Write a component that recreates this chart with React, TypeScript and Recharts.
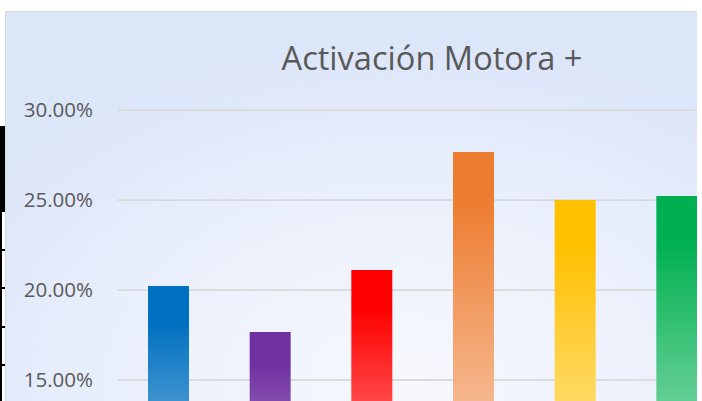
import React from 'react';
import { BarChart, Bar, XAxis, YAxis, CartesianGrid, Cell } from 'recharts';

const categories = ['A', 'B', 'C', 'D', 'E', 'F'];
const values = [0.2022, 0.1767, 0.2111, 0.2767, 0.25, 0.2522];
const colors = ['#0070C0', '#7030A0', '#FF0000', '#ED7D31', '#FFC000', '#00B050'];
const yTicks = [0.15, 0.2, 0.25, 0.3];
const title = 'Activación Motora +';

const data = categories.map((c, i) => ({ name: c, value: values[i] }));

const fmt = (v: number) => (v * 100).toFixed(2) + '%';

export default function App() {
  return (
    <div style={{ position: 'fixed', left: 0, top: 0, width: 702, height: 401, overflow: 'hidden', background: '#ffffff' }}>
      {/* spreadsheet cell marks on the left */}
      <div style={{ position: 'absolute', left: 0, top: 126, width: 5, height: 86, background: '#000' }} />
      <div style={{ position: 'absolute', left: 0, top: 212, width: 2, height: 189, background: '#000' }} />
      {[249, 287, 326, 364].map((y) => (
        <div key={y} style={{ position: 'absolute', left: 0, top: y, width: 5, height: 2, background: '#000' }} />
      ))}
      <div
        style={{
          position: 'absolute',
          left: 5,
          top: 11,
          width: 691,
          height: 400,
          borderTop: '1px solid #d9d9d9',
          borderLeft: '1px solid #d9d9d9',
          overflow: 'hidden',
          background: 'radial-gradient(ellipse 75% 85% at 58% 92%, #f6f8fd 0%, #eef2fc 40%, #dce6f9 100%)',
        }}
      >
        <div
          style={{
            position: 'absolute',
            left: 0,
            width: 852,
            top: 26,
            textAlign: 'center',
            fontFamily: '"Open Sans", sans-serif',
            fontSize: 32.6,
            color: '#595959',
            lineHeight: '40px',
            whiteSpace: 'nowrap',
          }}
        >
          {title}
        </div>
        <div style={{ position: 'absolute', left: 0, top: 0 }}>
          <BarChart
            width={722}
            height={640}
            data={data}
            margin={{ top: 98, right: 0, bottom: 2, left: 0 }}
            barCategoryGap={0}
          >
            <defs>
              {colors.map((c, i) => (
                <linearGradient key={i} id={`g${i}`} x1="0" y1="0" x2="0" y2="1">
                  <stop offset="0" stopColor={c} />
                  <stop offset="0.1" stopColor={c} />
                  <stop offset="1" stopColor="#ffffff" />
                </linearGradient>
              ))}
            </defs>
            <CartesianGrid vertical={false} stroke="#d9d9d9" strokeWidth={1.75} />
            <XAxis dataKey="name" hide />
            <YAxis
              width={112}
              domain={[0, 0.3]}
              ticks={yTicks}
              tickFormatter={fmt}
              axisLine={false}
              tickLine={false}
              tickSize={0}
              tickMargin={25}
              tick={{ fill: '#595959', fontSize: 20.5, fontFamily: '"Open Sans", sans-serif' }}
            />
            <Bar dataKey="value" barSize={41} isAnimationActive={false}>
              {data.map((d, i) => (
                <Cell key={d.name} fill={`url(#g${i})`} />
              ))}
            </Bar>
          </BarChart>
        </div>
      </div>
    </div>
  );
}
